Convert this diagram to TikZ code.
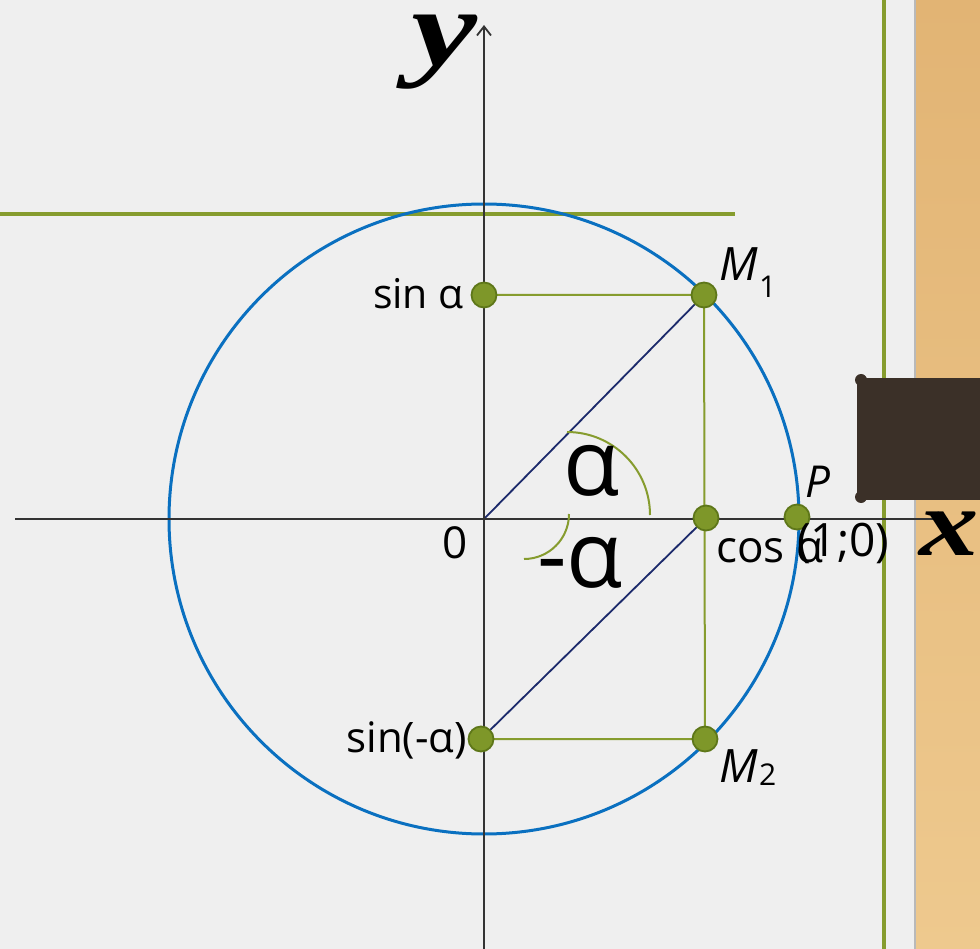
\documentclass[tikz,border=0pt]{standalone}
\usepackage{fontspec}
\setmainfont{Open Sans}
\newfontfamily\serifbi{Liberation Serif}
\usetikzlibrary{arrows.meta}
\definecolor{bg}{HTML}{EFEFEF}
\definecolor{woodA}{HTML}{E2B474}
\definecolor{woodB}{HTML}{EEC98E}
\definecolor{olv}{HTML}{869C2E}
\definecolor{ptfill}{HTML}{7E9729}
\definecolor{ptdraw}{HTML}{5E7719}
\definecolor{circblue}{HTML}{0A70C0}
\definecolor{navy}{HTML}{1C2A6B}
\definecolor{darkbrown}{HTML}{3B3028}
\definecolor{axisgray}{HTML}{333333}
\tikzset{
  olvline/.style={draw=olv, line width=3.2pt},
  guide/.style={draw=olv, line width=2pt},
  radial/.style={draw=navy, line width=1.8pt},
  axisline/.style={draw=axisgray, line width=2.4pt, -{Straight Barb[length=9pt,width=14pt,line width=1.8pt]}},
  dot/.style={circle, fill=ptfill, draw=ptdraw, line width=1.8pt, minimum size=25pt, inner sep=0pt},
  anglearc/.style={draw=olv, line width=2pt},
  lbl/.style={inner sep=0pt, text=black},
}
\begin{document}
\begin{tikzpicture}[x=1pt,y=-1pt]
\useasboundingbox (0,0) rectangle (980,949);
% background
\fill[bg] (0,0) rectangle (915,949);
\shade[top color=woodA, bottom color=woodB] (915,0) rectangle (980,949);
\draw[gray!55, line width=2pt] (915,0) -- (915,949);
% green frame lines
\draw[olvline] (884,0) -- (884,949);
\draw[olvline] (0,214) -- (735,214);
% dark brown tab
\fill[darkbrown] (861,380) circle[radius=6];
\fill[darkbrown] (861,497) circle[radius=6];
\fill[darkbrown] (857,378) rectangle (980,500);

% key points
\coordinate (O) at (484,519);
\coordinate (M1c) at (704,295);
\coordinate (M2c) at (705,739);
\coordinate (S1c) at (484,295);
\coordinate (S2c) at (481,739);
\coordinate (Cc) at (706,518);
\coordinate (Pc) at (797,517);
\coordinate (xs) at (15,519);
\coordinate (xe) at (948,519);
\coordinate (ys) at (484,949);
\coordinate (ye) at (484,25);

% circle
\draw[circblue, line width=3pt] (O) circle[radius=315];
% guides
\draw[guide] (S1c) -- (M1c) -- (M2c) -- (S2c);
% radial lines
\draw[radial] (O) -- (M1c);
\draw[radial] (Cc) -- (S2c);
% axes
\draw[axisline] (xs) -- (xe);
\draw[axisline] (ys) -- (ye);
% angle arcs
\draw[anglearc] (567,432) arc[start angle=270, end angle=360, radius=83];
\draw[anglearc] (569,514) arc[start angle=0, end angle=90, radius=45];

% dots
\node[dot] (M1) at (M1c) {};
\node[dot] (M2) at (M2c) {};
\node[dot] (S1) at (S1c) {};
\node[dot] (S2) at (S2c) {};
\node[dot] (C) at (Cc) {};
\node[dot] (P) at (Pc) {};

% labels
\node[lbl, anchor=base, text height=52pt, text depth=26pt, font=\serifbi\bfseries\itshape\fontsize{110}{110}\selectfont, xscale=1.35] (ylab) at (444,66) {y};
\node[lbl, anchor=center, font=\serifbi\bfseries\itshape\fontsize{95}{95}\selectfont, xscale=1.25] (xlab) at (949,534) {x};
\node[lbl, anchor=base east, font=\fontsize{41}{41}\selectfont] (sa) at (464,309) {sin α};
\node[lbl, anchor=base east, font=\fontsize{42}{42}\selectfont] (sma) at (467,752) {sin(-α)};
\node[lbl, anchor=base west, font=\fontsize{44}{44}\selectfont] (ca) at (716,562) {cos α};
\node[lbl, anchor=base west, font=\fontsize{46}{46}\selectfont] (one) at (797,556) {(1;0)};
\node[lbl, anchor=base, font=\fontsize{44}{44}\selectfont] (zero) at (455,558) {0};
\node[lbl, anchor=base, font=\fontsize{92}{92}\selectfont] (al) at (592,495) {α};
\node[lbl, anchor=base, font=\fontsize{92}{92}\selectfont] (mal) at (580,587) {-α};
\node[lbl, anchor=base west, font=\itshape\fontsize{44}{44}\selectfont] (Plab) at (805,497) {P};
\node[lbl, anchor=base west, font=\itshape\fontsize{46}{46}\selectfont] (M1lab) at (719,281) {M};
\node[lbl, anchor=base west, font=\fontsize{30}{30}\selectfont] (M1sub) at (759,298) {1};
\node[lbl, anchor=base west, font=\itshape\fontsize{46}{46}\selectfont] (M2lab) at (719,782) {M};
\node[lbl, anchor=base west, font=\fontsize{30}{30}\selectfont] (M2sub) at (759,785) {2};
\end{tikzpicture}
\end{document}
